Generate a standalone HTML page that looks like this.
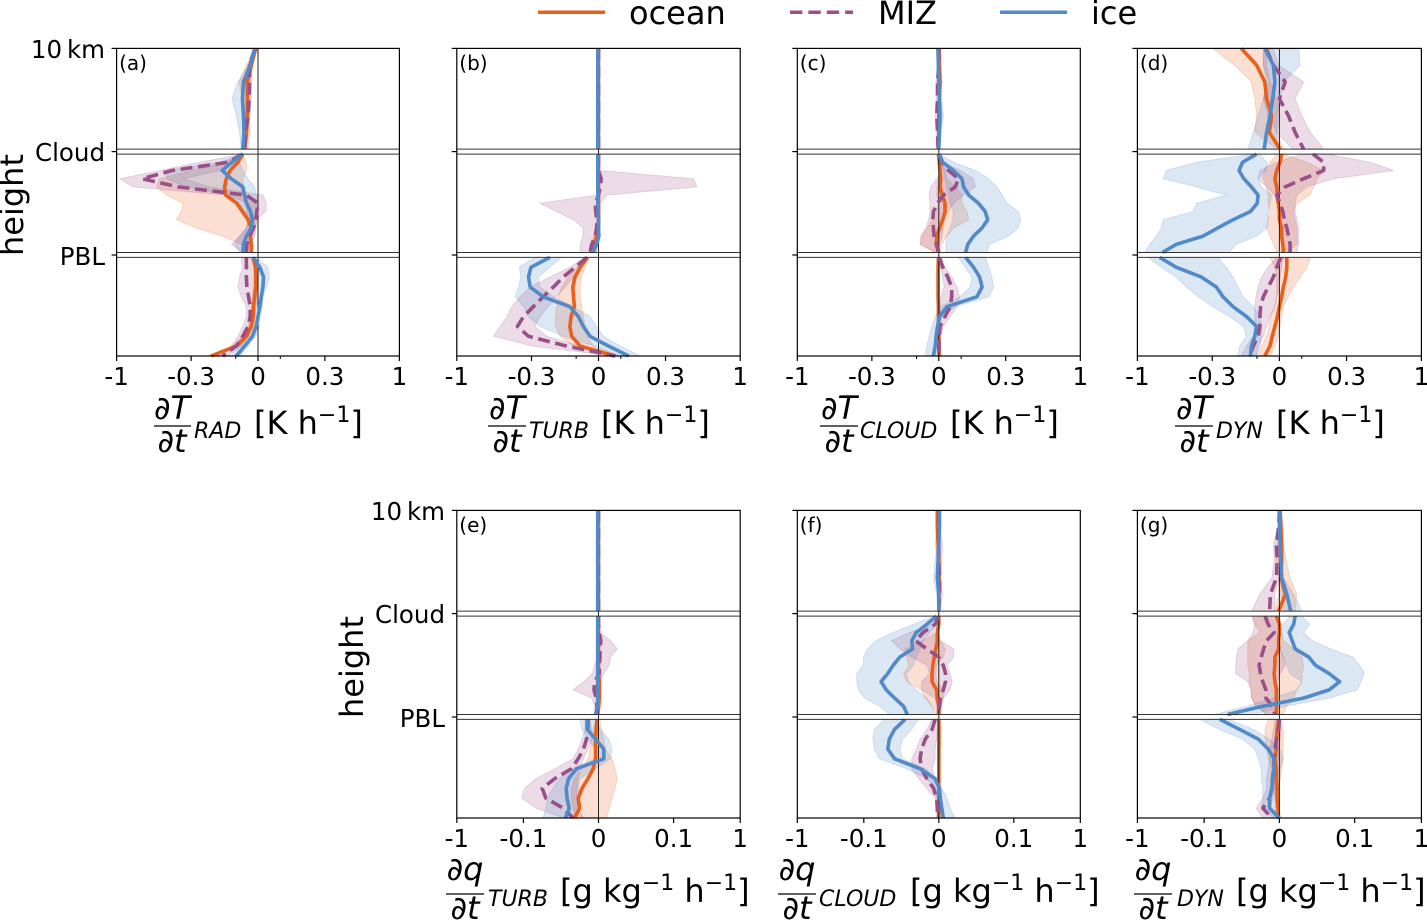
<!DOCTYPE html>
<html lang="en">
<head>
<meta charset="utf-8">
<title>Heating and moistening tendency profiles</title>
<style>
html,body{margin:0;padding:0;background:#fff;}
svg{display:block;font-family:"DejaVu Sans","Liberation Sans",sans-serif;fill:#000;}
.lab{font-size:32px;}
.sub{font-size:22px;font-style:italic;}
.frac{font-size:32px;font-style:italic;text-anchor:middle;}
.tick{font-size:24.5px;}
.ytick{font-size:24.5px;text-anchor:end;}
.pl{font-size:20px;}
</style>
</head>
<body>
<svg id="chart" xmlns="http://www.w3.org/2000/svg" width="1427" height="920" viewBox="0 0 1427 920">
  <g>
    <line x1="538" x2="605" y1="12.3" y2="12.3" stroke="#E8601C" stroke-width="3.5"/>
    <text x="629" y="24" class="lab">ocean</text>
    <line x1="790" x2="853" y1="12.3" y2="12.3" stroke="#994F88" stroke-width="3.5" stroke-dasharray="12.4 6"/>
    <text x="878" y="24" class="lab">MIZ</text>
    <line x1="1000" x2="1067" y1="12.3" y2="12.3" stroke="#5289C7" stroke-width="3.5"/>
    <text x="1091" y="24" class="lab">ice</text>
  </g>

  <text class="lab" text-anchor="middle" transform="translate(23 205) rotate(-90)">height</text>
  <text class="lab" text-anchor="middle" transform="translate(363 667) rotate(-90)">height</text>

  <g>
    <text class="ytick" x="105" y="58">10&#8201;km</text>
    <text class="ytick" x="105" y="161">Cloud</text>
    <text class="ytick" x="105" y="265">PBL</text>
  </g>
  <g>
    <text class="ytick" x="445" y="520">10&#8201;km</text>
    <text class="ytick" x="445" y="623">Cloud</text>
    <text class="ytick" x="445" y="727">PBL</text>
  </g>

  <g>
    <text class="frac" x="172" y="419">∂T</text><line x1="154" x2="191" y1="426" y2="426" stroke="#000" stroke-width="1.3"/><text class="frac" x="172" y="452">∂t</text>
    <text class="sub" x="194" y="438">RAD</text>
    <text class="lab" x="254" y="434">[K h<tspan dy="-12" font-size="22">−1</tspan><tspan dy="12">]</tspan></text>
  </g>
  <g>
    <text class="frac" x="507" y="419">∂T</text><line x1="488" x2="526" y1="426" y2="426" stroke="#000" stroke-width="1.3"/><text class="frac" x="507" y="452">∂t</text>
    <text class="sub" x="529" y="438">TURB</text>
    <text class="lab" x="601" y="434">[K h<tspan dy="-12" font-size="22">−1</tspan><tspan dy="12">]</tspan></text>
  </g>
  <g>
    <text class="frac" x="839" y="419">∂T</text><line x1="820" x2="858" y1="426" y2="426" stroke="#000" stroke-width="1.3"/><text class="frac" x="839" y="452">∂t</text>
    <text class="sub" x="860" y="438">CLOUD</text>
    <text class="lab" x="950" y="434">[K h<tspan dy="-12" font-size="22">−1</tspan><tspan dy="12">]</tspan></text>
  </g>
  <g>
    <text class="frac" x="1194" y="419">∂T</text><line x1="1175" x2="1213" y1="426" y2="426" stroke="#000" stroke-width="1.3"/><text class="frac" x="1194" y="452">∂t</text>
    <text class="sub" x="1216" y="438">DYN</text>
    <text class="lab" x="1276" y="434">[K h<tspan dy="-12" font-size="22">−1</tspan><tspan dy="12">]</tspan></text>
  </g>
  <g>
    <text class="frac" x="465" y="880">∂q</text><line x1="446" x2="484" y1="894" y2="894" stroke="#000" stroke-width="1.3"/><text class="frac" x="465" y="919">∂t</text>
    <text class="sub" x="488" y="906">TURB</text>
    <text class="lab" x="560" y="902">[g kg<tspan dy="-12" font-size="22">−1</tspan><tspan dy="12"> h</tspan><tspan dy="-12" font-size="22">−1</tspan><tspan dy="12">]</tspan></text>
  </g>
  <g>
    <text class="frac" x="797" y="880">∂q</text><line x1="778" x2="816" y1="894" y2="894" stroke="#000" stroke-width="1.3"/><text class="frac" x="797" y="919">∂t</text>
    <text class="sub" x="819" y="906">CLOUD</text>
    <text class="lab" x="910" y="902">[g kg<tspan dy="-12" font-size="22">−1</tspan><tspan dy="12"> h</tspan><tspan dy="-12" font-size="22">−1</tspan><tspan dy="12">]</tspan></text>
  </g>
  <g>
    <text class="frac" x="1153" y="880">∂q</text><line x1="1134" x2="1172" y1="894" y2="894" stroke="#000" stroke-width="1.3"/><text class="frac" x="1153" y="919">∂t</text>
    <text class="sub" x="1177" y="906">DYN</text>
    <text class="lab" x="1236" y="902">[g kg<tspan dy="-12" font-size="22">−1</tspan><tspan dy="12"> h</tspan><tspan dy="-12" font-size="22">−1</tspan><tspan dy="12">]</tspan></text>
  </g>
</svg>

<script>
// Normalised height levels: 3 = 10 km, 2 = cloud top, 1 = PBL top, 0 = surface.
const topLevels = [3, 2.837, 2.675, 2.512, 2.349, 2.187, 2.024];
const midLevels = [1.976, 1.897, 1.817, 1.738, 1.659, 1.579, 1.5, 1.421, 1.341, 1.262, 1.183, 1.103, 1.024];
const lowLevels = [0.976, 0.878, 0.781, 0.683, 0.586, 0.488, 0.39, 0.293, 0.195, 0.098, 0];

// Tick values in thousandths of the axis unit, and their printed labels.
const tempTicks = [-1000, -300, 0, 300, 1000];
const tempTickLabels = ['-1', '-0.3', '0', '0.3', '1'];
const tempMinorTicks = [-100, 100];
const moistTicks = [-1000, -100, 0, 100, 1000];
const moistTickLabels = ['-1', '-0.1', '0', '0.1', '1'];
const moistMinorTicks = [];

// Each series: 7 levels above cloud + 13 between cloud and PBL + 11 below PBL. Values in 1/1000 unit.
// (a) temperature tendency, RAD
const aOceanLine = [-10,-30,-48,-48,-48,-52,-60, -68,-90,-125,-142,-150,-145,-95,-70,-45,-30,-35,-30,-30, -22,-12,-10,-10,-15,-20,-22,-30,-52,-98,-210];
const aOceanLow  = [-14,-52,-85,-70,-68,-68,-70, -68,-150,-300,-594,-625,-530,-375,-390,-438,-278,-158,-75,-45, -30,-22,-20,-20,-25,-30,-35,-45,-70,-115,-230];
const aOceanHigh = [-8,-22,-35,-35,-38,-35,-45, -68,-52,-52,-68,-68,-52,-8,-8,0,-15,-22,-22,-22, -15,-5,0,0,-5,-10,-12,-18,-40,-80,-190];
const aMizLine = [-14,-38,-38,-40,-45,-55,-60, -68,-135,-478,-760,-422,-52,0,-5,-10,-20,-38,-50,-52, -52,-52,-52,-50,-42,-35,-35,-45,-68,-98,-158];
const aMizLow  = [-20,-45,-50,-50,-55,-65,-68, -68,-262,-594,-970,-845,-142,-38,-52,-45,-52,-82,-120,-68, -75,-70,-82,-90,-75,-52,-52,-68,-90,-120,-172];
const aMizHigh = [-8,-30,-28,-30,-35,-45,-50, -68,-98,-172,-375,-218,22,38,35,-8,-8,-15,-38,-38, -30,-30,-25,-22,-22,-20,-20,-25,-45,-75,-135];
const aIceLine = [-12,-35,-65,-70,-65,-63,-68, -68,-118,-160,-120,-68,-60,-52,-33,-25,-30,-52,-65,-68, -22,8,25,22,15,8,0,-8,-25,-60,-98];
const aIceLow  = [-14,-45,-90,-117,-98,-83,-75, -68,-172,-530,-530,-345,-142,-82,-60,-45,-52,-82,-105,-82, -22,-15,-8,-8,-8,-10,-15,-25,-45,-82,-120];
const aIceHigh = [-10,-25,-52,-52,-50,-45,-60, -68,-82,-68,-45,-15,-8,0,-8,-15,-15,-30,-45,-52, -8,45,52,38,22,20,8,5,-10,-45,-82];

// (b) temperature tendency, TURB
const bOceanLine = [0,0,0,0,0,0,0, 0,0,0,0,0,0,0,0,0,-5,-10,-15,-25, -50,-82,-105,-115,-112,-108,-123,-128,-120,-82,75];
const bOceanLow  = [0,0,0,0,0,0,0, 0,0,0,0,0,0,0,0,-3,-15,-22,-30,-35, -60,-98,-135,-165,-180,-188,-192,-192,-172,-112,45];
const bOceanHigh = [0,0,0,0,0,0,0, 0,0,0,0,0,0,0,0,8,8,0,-5,-10, -38,-60,-75,-82,-82,-75,-68,-60,-52,-22,98];
const bMizLine = [0,0,0,0,0,0,0, 0,0,0,12,8,0,-15,-12,-8,-8,-15,-30,-38, -52,-105,-158,-202,-248,-292,-375,-432,-328,-142,75];
const bMizLow  = [0,0,0,0,0,0,0, 0,0,0,0,0,-8,-262,-188,-112,-68,-70,-82,-82, -60,-128,-218,-312,-406,-485,-530,-594,-656,-292,68];
const bMizHigh = [0,0,0,0,0,0,0, 0,0,5,563,594,38,8,8,8,5,-8,-8,-10, -45,-75,-112,-150,-188,-225,-262,-285,-232,-82,82];
const bIceLine = [-3,-3,-3,-3,-3,-3,-3, -3,-3,-3,-3,-3,-3,-3,-2,0,0,2,-8,-25, -218,-305,-328,-312,-248,-128,-90,-68,-38,45,135];
const bIceLow  = [-5,-5,-5,-5,-5,-5,-5, -5,-5,-5,-5,-5,-5,-5,-4,-3,-3,-2,-12,-30, -285,-413,-400,-422,-453,-375,-328,-262,-158,-15,98];
const bIceHigh = [-1,-1,-1,-1,-1,-1,-1, -1,-1,-1,-1,-1,-1,-1,0,3,3,5,-2,-18, -165,-218,-270,-262,-202,-112,-38,-8,22,98,188];

// (c) temperature tendency, CLOUD
const cOceanLine = [2,3,6,3,0,0,-2, -2,2,6,9,6,16,28,28,18,3,-9,-12,-2, -2,-3,-3,-3,-3,-2,-2,0,0,2,2];
const cOceanLow  = [0,0,-2,-3,-5,-3,-3, -4,-2,3,-2,-9,-9,-2,-9,-30,-52,-75,-82,-15, -5,-6,-6,-6,-6,-5,-5,-3,-3,-1,-1];
const cOceanHigh = [5,5,15,5,3,2,2, 0,12,30,36,74,104,104,126,134,66,36,14,3, 1,0,0,0,0,1,1,3,3,5,5];
const cMizLine = [0,0,-6,-6,-9,-6,-3, 0,14,44,88,74,21,-6,-24,-27,-24,-21,-9,0, 3,18,40,58,58,51,28,6,2,0,0];
const cMizLow  = [-3,-3,-12,-12,-16,-10,-6, 0,3,14,-9,-36,-44,-39,-39,-46,-57,-82,-84,-16, 0,6,18,24,9,6,3,0,-2,-2,-2];
const cMizHigh = [3,3,0,0,-2,0,0, 0,21,96,156,164,111,66,44,21,21,14,3,3, 3,28,58,81,93,81,51,21,9,6,6];
const cIceLine = [-4,-2,0,3,6,3,0, 2,18,66,104,111,134,178,208,219,194,156,130,120, 120,156,183,194,171,36,3,-6,-12,-16,-24];
const cIceLow  = [-6,-5,-4,-2,0,-1,-2, 0,3,21,28,33,44,51,66,63,51,36,32,32, 88,118,148,141,96,6,-16,-32,-42,-54,-62];
const cIceHigh = [-2,1,3,10,22,8,3, 3,66,164,224,261,284,309,419,441,419,325,228,216, 208,224,238,246,224,74,14,9,3,-2,-9];

// (d) temperature tendency, DYN
const dOceanLine = [-170,-102,-65,-57,-35,-45,3, 10,3,-12,-20,-12,-9,-5,0,0,10,10,15,18, 33,33,28,18,10,0,-9,-20,-32,-42,-65];
const dOceanLow  = [-297,-200,-125,-110,-102,-110,-12, -12,-42,-69,-72,-57,-50,-50,-42,-50,-57,-42,-27,-12, -42,-20,-12,-12,-12,-20,-42,-46,-57,-80,-95];
const dOceanHigh = [-57,-57,-42,-12,3,-12,18, 18,123,198,168,153,135,78,63,70,78,78,78,33, 138,123,93,63,40,18,10,3,-5,-20,-42];
const dMizLine = [-60,-27,26,0,40,70,108, 150,198,198,108,26,-12,3,15,22,33,40,48,48, 6,-12,-27,-50,-72,-84,-87,-87,-95,-117,-132];
const dMizLow  = [-72,-72,-45,-72,-50,-12,60, 100,-12,-87,-95,-57,-20,-12,3,3,3,18,18,18, -12,-50,-80,-95,-105,-110,-110,-110,-117,-147,-170];
const dMizHigh = [-27,-5,108,70,100,138,198, 213,522,741,243,123,78,70,70,78,85,85,85,78, 18,10,3,0,-12,-20,-42,-57,-72,-95,-102];
const dIceLine = [-65,-27,-20,-30,-42,-57,-68, -102,-165,-180,-159,-125,-95,-99,-129,-207,-275,-385,-635,-766, -791,-635,-400,-282,-252,-207,-147,-102,-110,-125,-129];
const dIceLow  = [-69,-72,-57,-72,-95,-117,-140, -117,-447,-729,-760,-447,-237,-447,-478,-760,-776,-823,-885,-932, -901,-776,-635,-541,-431,-297,-222,-162,-147,-177,-185];
const dIceHigh = [86,93,18,3,-12,-12,-12, -87,-57,-57,-95,-80,-35,-42,-50,-50,-57,-102,-192,-225, -275,-237,-207,-185,-162,-117,-87,-80,-80,-87,-102];

// (e) moisture tendency, TURB
const eOceanLine = [0,0,0,0,0,0,0, 0,0,0,0,0,0,0,0,1,1,1,0,-1, -2,-3,-4,-4,-4,-7,-14,-22,-27,-25,-32];
const eOceanLow  = [0,0,0,0,0,0,0, 0,0,0,0,0,0,0,0,0,-1,-1,-3,-3, -4,-7,-9,-11,-14,-22,-32,-36,-36,-34,-29];
const eOceanHigh = [0,0,0,0,0,0,0, 0,0,0,0,0,0,0,3,4,4,4,3,1, 2,4,7,9,18,22,25,22,18,14,11];
const eMizLine = [0,0,0,0,0,0,0, 0,0,1,3,2,2,1,1,-5,-6,-3,-2,-2, -14,-14,-16,-20,-27,-36,-58,-75,-70,-47,-34];
const eMizLow  = [0,0,0,0,0,0,0, 0,0,0,0,0,-1,-5,-8,-20,-34,-9,-5,-5, -18,-18,-22,-27,-34,-58,-83,-99,-123,-83,-47];
const eMizHigh = [0,0,0,0,0,0,0, 0,0,2,16,25,16,14,7,2,2,1,1,1, -11,-9,-9,-14,-20,-25,-27,-29,-29,-27,-20];
const eIceLine = [-1,-1,-1,-1,-1,-1,-1, -1,-1,-1,-1,-1,-1,-1,-1,-1,-1,-1,-1,-4, -15,-15,-4,7,7,-29,-40,-43,-42,-39,-44];
const eIceLow  = [-2,-2,-2,-2,-2,-2,-2, -2,-2,-2,-2,-2,-2,-2,-2,-2,-2,-2,-2,-6, -25,-22,-14,-4,-4,-36,-52,-61,-68,-70,-74];
const eIceHigh = [0,0,0,0,0,0,0, 0,0,0,0,0,0,0,0,0,0,0,0,-2, -2,2,14,18,16,-4,-25,-27,-25,-25,-36];

// (f) moisture tendency, CLOUD
const fOceanLine = [-2,-2,-1,0,0,0,0, 0,0,-2,-2,-4,-6,-8,-9,-9,-3,-2,0,0, 0,0,0,0,0,0,0,0,0,0,0];
const fOceanLow  = [-3,-3,-5,-2,-1,-1,-1, 0,0,-3,-21,-45,-43,-40,-47,-43,-23,-18,-9,-5, -1,-1,-1,-1,-1,-1,-1,-1,-1,-1,-1];
const fOceanHigh = [-1,-1,1,2,3,5,2, 0,1,1,2,9,6,-3,-4,-3,6,6,4,2, 1,3,3,2,1,1,1,1,1,1,1];
const fMizLine = [0,0,0,0,1,1,0, 0,-5,-21,-31,-16,0,6,9,9,6,2,1,0, -5,-9,-18,-23,-25,-23,-16,-7,-3,-2,-2];
const fMizLow  = [-2,-1,-2,-2,-1,-1,-1, 0,-9,-39,-63,-52,-36,-16,-12,-23,-23,-5,-3,-3, -9,-16,-25,-30,-36,-36,-27,-16,-5,-3,-3];
const fMizHigh = [1,1,5,4,3,3,1, 0,-2,-7,2,20,20,11,15,18,15,6,3,2, -2,-2,-3,-5,-5,-9,-5,0,1,0,0];
const fIceLine = [1,1,0,-1,-2,0,0, -3,-16,-30,-36,-35,-52,-61,-68,-77,-70,-59,-47,-42, -45,-59,-66,-68,-59,-25,-5,1,2,4,6];
const fIceLow  = [0,0,-2,-5,-7,-3,-1, -5,-34,-61,-84,-95,-104,-104,-195,-195,-172,-99,-79,-66, -72,-86,-88,-86,-79,-43,-16,-7,-3,-3,0];
const fIceHigh = [1,1,2,2,2,1,1, 0,-3,-12,-21,-25,-30,-34,-43,-41,-30,-16,-9,-7, -27,-36,-48,-52,-48,-18,-3,4,11,15,22];

// (g) moisture tendency, DYN
const gOceanLine = [1,2,3,3,2,8,-1, -4,0,0,-1,-1,-6,-6,-7,-6,-4,-4,-4,-4, -1,-3,-4,-4,-6,-4,-4,-3,-3,-2,-1];
const gOceanLow  = [-1,-1,-3,-4,-1,-1,-6, -35,-33,-26,-42,-42,-42,-42,-40,-40,-37,-37,-31,-17, -15,-19,-19,-17,-15,-10,-9,-7,-6,-6,-4];
const gOceanHigh = [2,5,5,9,14,23,21, 1,1,3,5,19,30,32,30,30,23,19,10,5, 1,5,5,5,5,3,1,0,0,0,1];
const gMizLine = [0,-1,-4,-3,-4,-12,-13, -19,-15,-7,-17,-21,-24,-27,-25,-22,-18,-18,-9,-6, 0,-1,-4,-6,-7,-8,-9,-10,-13,-22,-10];
const gMizLow  = [0,-1,-8,-7,-10,-26,-37, -37,-33,-35,-42,-55,-57,-58,-58,-42,-38,-37,-31,-17, -6,-8,-10,-13,-13,-15,-17,-17,-22,-31,-22];
const gMizHigh = [0,1,0,1,0,-6,-6, 0,0,0,1,1,5,8,1,-4,-1,-4,-4,-1, 2,2,1,0,-1,-4,-4,-6,-8,-13,-4];
const gIceLine = [0,0,1,2,3,10,15, 21,19,13,17,21,39,48,66,80,66,32,-22,-69, -79,-53,-28,-15,-7,-7,-9,-10,-13,-13,0];
const gIceLow  = [-1,-1,0,1,2,2,5, 14,5,1,5,1,5,10,14,30,23,-8,-44,-87, -158,-80,-49,-33,-28,-24,-24,-22,-22,-24,-8];
const gIceHigh = [0,1,2,3,5,19,30, 30,40,32,44,68,98,168,231,185,132,66,8,-35, -67,-35,-13,1,5,1,1,-1,-4,-4,1];

const panelIds = ['a', 'b', 'c', 'd', 'e', 'f', 'g'];
const panelKinds = ['temp', 'temp', 'temp', 'temp', 'moist', 'moist', 'moist'];
const oceanLines = [aOceanLine, bOceanLine, cOceanLine, dOceanLine, eOceanLine, fOceanLine, gOceanLine];
const oceanLows = [aOceanLow, bOceanLow, cOceanLow, dOceanLow, eOceanLow, fOceanLow, gOceanLow];
const oceanHighs = [aOceanHigh, bOceanHigh, cOceanHigh, dOceanHigh, eOceanHigh, fOceanHigh, gOceanHigh];
const mizLines = [aMizLine, bMizLine, cMizLine, dMizLine, eMizLine, fMizLine, gMizLine];
const mizLows = [aMizLow, bMizLow, cMizLow, dMizLow, eMizLow, fMizLow, gMizLow];
const mizHighs = [aMizHigh, bMizHigh, cMizHigh, dMizHigh, eMizHigh, fMizHigh, gMizHigh];
const iceLines = [aIceLine, bIceLine, cIceLine, dIceLine, eIceLine, fIceLine, gIceLine];
const iceLows = [aIceLow, bIceLow, cIceLow, dIceLow, eIceLow, fIceLow, gIceLow];
const iceHighs = [aIceHigh, bIceHigh, cIceHigh, dIceHigh, eIceHigh, fIceHigh, gIceHigh];

// Layout of the axes frames
function panelFrame(i) {
  const lefts = [116.6, 456.8, 797.3, 1137.4, 456.8, 797.3, 1137.4];
  const widths = [282.8, 283.4, 283.0, 284.0, 283.4, 283.0, 284.0];
  const row = i < 4 ? 0 : 1;
  return { left: lefts[i], width: widths[i], top: row ? 510.4 : 48.4, bottom: row ? 818 : 356, shift: row ? 462 : 0 };
}

// Axis functions
function xScale(frame, kind, v) {
  const knee = kind === 'temp' ? 300 : 100;
  const kneeFrac = kind === 'temp' ? 0.473 : 0.53;
  const a = Math.abs(v);
  const f = a <= knee ? a / knee * kneeFrac : kneeFrac + (a - knee) / (1000 - knee) * (1 - kneeFrac);
  return frame.left + frame.width / 2 + Math.sign(v) * f * frame.width / 2;
}
function yScale(frame, h) {
  let y;
  if (h <= 1) y = 356 + (255.0 - 356) * h;
  else if (h <= 2) y = 255.0 + (151.6 - 255.0) * (h - 1);
  else y = 151.6 + (48.4 - 151.6) * (h - 2);
  return y + frame.shift;
}

const svgNS = 'http://www.w3.org/2000/svg';
const chart = document.getElementById('chart');
function mark(tag, name, parent) {
  const el = document.createElementNS(svgNS, tag);
  
  
  parent.appendChild(el);
  return el;
}
function hvLine(name, parent, x1, y1, x2, y2, color, width) {
  const l = mark('line', name, parent);
  l.setAttribute('x1', x1);
  l.setAttribute('y1', y1);
  l.setAttribute('x2', x2);
  l.setAttribute('y2', y2);
  l.setAttribute('stroke', color);
  l.setAttribute('stroke-width', width);
  return l;
}

const segments = [
  { name: 'upper', levels: topLevels, start: 0 },
  { name: 'middle', levels: midLevels, start: 7 },
  { name: 'lower', levels: lowLevels, start: 20 }
];

function drawBand(g, frame, kind, low, high, color, label) {
  segments.forEach(function (seg) {
    const pts = [];
    seg.levels.forEach(function (h, k) {
      pts.push(xScale(frame, kind, low[seg.start + k]).toFixed(1) + ',' + yScale(frame, h).toFixed(1));
    });
    for (let k = seg.levels.length - 1; k >= 0; k--) {
      pts.push(xScale(frame, kind, high[seg.start + k]).toFixed(1) + ',' + yScale(frame, seg.levels[k]).toFixed(1));
    }
    const poly = mark('polygon', label + '-spread-' + seg.name, g);
    poly.setAttribute('points', pts.join(' '));
    poly.setAttribute('fill', color);
    poly.setAttribute('fill-opacity', '0.2');
    poly.setAttribute('stroke', color);
    poly.setAttribute('stroke-opacity', '0.2');
    poly.setAttribute('stroke-width', '1');
  });
}
function drawLine(g, frame, kind, vals, color, label, dash) {
  segments.forEach(function (seg) {
    const pts = seg.levels.map(function (h, k) {
      return xScale(frame, kind, vals[seg.start + k]).toFixed(1) + ',' + yScale(frame, h).toFixed(1);
    });
    const pl = mark('polyline', label + '-line-' + seg.name, g);
    pl.setAttribute('points', pts.join(' '));
    pl.setAttribute('fill', 'none');
    pl.setAttribute('stroke', color);
    pl.setAttribute('stroke-width', '3.6');
    pl.setAttribute('stroke-linejoin', 'round');
    if (dash) pl.setAttribute('stroke-dasharray', dash);
  });
}

const oceanColor = '#E8601C';
const mizColor = '#994F88';
const iceColor = '#5289C7';
const boundaryLevels = [2.024, 1.976, 1.024, 0.976];
const yTickLevels = [3, 2, 1];

panelIds.forEach(function (id, i) {
  const frame = panelFrame(i);
  const kind = panelKinds[i];
  const g = mark('g', 'panel-' + id, chart);

  drawBand(g, frame, kind, oceanLows[i], oceanHighs[i], oceanColor, 'ocean');
  drawBand(g, frame, kind, mizLows[i], mizHighs[i], mizColor, 'miz');
  drawBand(g, frame, kind, iceLows[i], iceHighs[i], iceColor, 'ice');

  drawLine(g, frame, kind, oceanLines[i], oceanColor, 'ocean', null);
  const zx = xScale(frame, kind, 0);
  hvLine('zero-line', g, zx, frame.top, zx, frame.bottom, '#222', 1);
  drawLine(g, frame, kind, mizLines[i], mizColor, 'miz', '12 5.6');
  drawLine(g, frame, kind, iceLines[i], iceColor, 'ice', null);

  boundaryLevels.forEach(function (h) {
    const y = yScale(frame, h);
    hvLine('layer-boundary-line', g, frame.left, y, frame.left + frame.width, y, '#333', 1);
  });

  const frameRect = mark('rect', 'axes-frame', g);
  frameRect.setAttribute('x', frame.left);
  frameRect.setAttribute('y', frame.top);
  frameRect.setAttribute('width', frame.width);
  frameRect.setAttribute('height', frame.bottom - frame.top);
  frameRect.setAttribute('fill', 'none');
  frameRect.setAttribute('stroke', '#000');
  frameRect.setAttribute('stroke-width', '1.2');

  yTickLevels.forEach(function (h) {
    const y = yScale(frame, h);
    hvLine('y-tick', g, frame.left - 5, y, frame.left, y, '#000', 1.2);
  });

  const ticks = kind === 'temp' ? tempTicks : moistTicks;
  const labels = kind === 'temp' ? tempTickLabels : moistTickLabels;
  const minor = kind === 'temp' ? tempMinorTicks : moistMinorTicks;
  ticks.forEach(function (t, k) {
    const x = xScale(frame, kind, t);
    hvLine('x-tick', g, x, frame.bottom, x, frame.bottom + 5, '#000', 1.2);
    const txt = mark('text', 'x-tick-label', g);
    txt.setAttribute('x', x);
    txt.setAttribute('y', frame.bottom + 29);
    txt.setAttribute('text-anchor', 'middle');
    txt.setAttribute('class', 'tick');
    txt.textContent = labels[k];
  });
  minor.forEach(function (t) {
    const x = xScale(frame, kind, t);
    hvLine('x-minor-tick', g, x, frame.bottom, x, frame.bottom + 3, '#000', 1);
  });

  const letter = mark('text', 'panel-letter', g);
  letter.setAttribute('x', frame.left + 2.5);
  letter.setAttribute('y', frame.top + 21.5);
  letter.setAttribute('class', 'pl');
  letter.textContent = '(' + id + ')';
});
</script>
</body>
</html>
